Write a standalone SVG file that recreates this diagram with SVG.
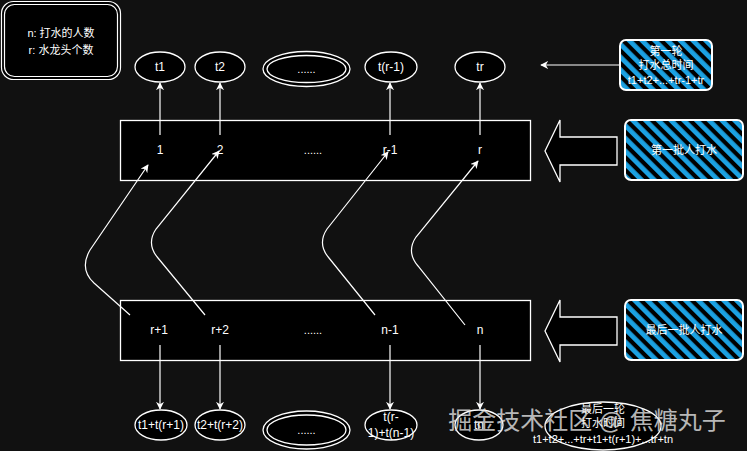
<svg xmlns="http://www.w3.org/2000/svg" width="747" height="451" viewBox="0 0 747 451">
<defs>
<style>
text{font-family:"Liberation Sans","Noto Sans CJK SC",sans-serif;fill:#fff;font-size:12px;text-anchor:middle}
.sm{font-size:11px}
.n{fill:#000;stroke:#fff;stroke-width:1.3}
.c{fill:none;stroke:#fff;stroke-width:1.2}
.h{fill:url(#hatch);stroke:#fff;stroke-width:2}
.wm{font-size:24px;fill:#e6e6e6;fill-opacity:0.8}
</style>
<pattern id="hatch" patternUnits="userSpaceOnUse" width="9" height="9" patternTransform="rotate(-45)">
<rect width="9" height="9" fill="#000"/>
<rect width="4.8" height="9" fill="#1ba1e2"/>
</pattern>
<marker id="ah" viewBox="0 0 10 10" refX="9" refY="5" markerWidth="8" markerHeight="8" orient="auto" markerUnits="userSpaceOnUse">
<path d="M0,0 L10,5 L0,10 L3,5 Z" fill="#fff"/>
</marker>
</defs>
<rect width="747" height="451" fill="#111"/>

<g id="legend">
<rect x="1.5" y="1.5" width="119" height="78" rx="12" fill="#000" stroke="#fff" stroke-width="1.2"/>
<rect x="4.5" y="4.5" width="113" height="72" rx="10" fill="none" stroke="#fff" stroke-width="1.2"/>
<text class="sm" x="61" y="37">n: 打水的人数</text>
<text class="sm" x="61" y="54">r: 水龙头个数</text>
</g>

<g id="top-ellipses">
<g id="e-t1"><ellipse class="n" cx="160" cy="67" rx="25" ry="15"/><text x="160" y="71">t1</text></g>
<g id="e-t2"><ellipse class="n" cx="220" cy="67" rx="25" ry="15"/><text x="220" y="71">t2</text></g>
<g id="e-dots-top"><ellipse class="n" cx="306.5" cy="69" rx="43.5" ry="17.5"/><ellipse class="n" cx="306.5" cy="69" rx="39.5" ry="13.5"/><text class="sm" x="306.5" y="73">......</text></g>
<g id="e-tr1"><ellipse class="n" cx="391" cy="67" rx="26" ry="15"/><text x="391" y="71">t(r-1)</text></g>
<g id="e-tr"><ellipse class="n" cx="480" cy="67" rx="25" ry="15"/><text x="480" y="71">tr</text></g>
</g>

<g id="first-batch-row">
<rect class="n" x="120.5" y="120.5" width="410" height="60"/>
<text x="160" y="154">1</text>
<text x="220" y="154">2</text>
<text class="sm" x="313" y="154">......</text>
<text x="390" y="154">r-1</text>
<text x="480" y="154">r</text>
</g>

<g id="last-batch-row">
<rect class="n" x="120.5" y="300.5" width="410" height="60"/>
<text x="159" y="334">r+1</text>
<text x="220" y="334">r+2</text>
<text class="sm" x="313" y="334">......</text>
<text x="390" y="334">n-1</text>
<text x="480" y="334">n</text>
</g>

<g id="bottom-ellipses">
<g id="e-b1"><ellipse class="n" cx="161" cy="425" rx="26" ry="15"/><text x="161" y="429">t1+t(r+1)</text></g>
<g id="e-b2"><ellipse class="n" cx="220" cy="425" rx="25" ry="15"/><text x="220" y="429">t2+t(r+2)</text></g>
<g id="e-dots-bot"><ellipse class="n" cx="306.5" cy="430" rx="43.5" ry="19"/><ellipse class="n" cx="306.5" cy="430" rx="39.5" ry="15"/><text class="sm" x="306.5" y="434">......</text></g>
<g id="e-b3"><ellipse class="n" cx="391" cy="425" rx="26" ry="15"/><text x="391" y="421">t(r-</text><text x="391" y="437">1)+t(n-1)</text></g>
<g id="e-b4"><ellipse class="n" cx="479" cy="425" rx="24" ry="15"/><text x="479" y="429">tn</text></g>
<g id="e-last-round"><ellipse class="n" cx="603" cy="426" rx="58" ry="24"/>
<text class="sm" x="603" y="413">最后一轮</text>
<text class="sm" x="603" y="427">打水时间</text>
<text class="sm" x="603" y="443">t1+t2+...+tr+t1+t(r+1)+...tr+tn</text></g>
</g>

<g id="first-round-box">
<rect class="h" x="620" y="40" width="92" height="50" rx="6"/>
<text class="sm" x="666" y="55">第一轮</text>
<text class="sm" x="666" y="69">打水总时间</text>
<text class="sm" x="666" y="84">t1+t2+...+tr-1+tr</text>
</g>

<g id="first-batch-box">
<rect class="h" x="625" y="120" width="118" height="60" rx="6"/>
<text class="sm" x="684" y="154">第一批人打水</text>
</g>

<g id="last-batch-box">
<rect class="h" x="625" y="300" width="118" height="60" rx="6"/>
<text class="sm" x="684" y="334">最后一批人打水</text>
</g>

<g id="block-arrow-top">
<path class="n" d="M545,151 L560,120 L560,137 L617,137 L617,165 L560,165 L560,182 Z"/>
</g>
<g id="block-arrow-bottom">
<path class="n" d="M545,331 L560,300 L560,317 L617,317 L617,345 L560,345 L560,362 Z"/>
</g>

<g id="connectors">
<path class="c" marker-end="url(#ah)" d="M160,135 L160,83"/>
<path class="c" marker-end="url(#ah)" d="M220,135 L220,83"/>
<path class="c" marker-end="url(#ah)" d="M390,135 L390,83"/>
<path class="c" marker-end="url(#ah)" d="M480,135 L480,83"/>
<path class="c" marker-end="url(#ah)" d="M160,345 L160,409"/>
<path class="c" marker-end="url(#ah)" d="M220,345 L220,409"/>
<path class="c" marker-end="url(#ah)" d="M390,345 L390,409"/>
<path class="c" marker-end="url(#ah)" d="M480,345 L480,409"/>
<path class="c" marker-end="url(#ah)" d="M620,65 L541,65"/>
<path class="c" marker-end="url(#ah)" d="M130,315 L94,283 Q79,269 90,250 L148,165"/>
<path class="c" marker-end="url(#ah)" d="M205,315 L158,258 Q146,244 156,229 L219,151"/>
<path class="c" marker-end="url(#ah)" d="M375,315 L329,258 Q317,244 327,229 L388,152"/>
<path class="c" marker-end="url(#ah)" d="M465,325 L418,266 Q406,252 416,237 L478,161"/>
</g>

<g id="watermark">
<text class="wm" x="587" y="429">掘金技术社区 @ 焦糖丸子</text>
</g>
</svg>
